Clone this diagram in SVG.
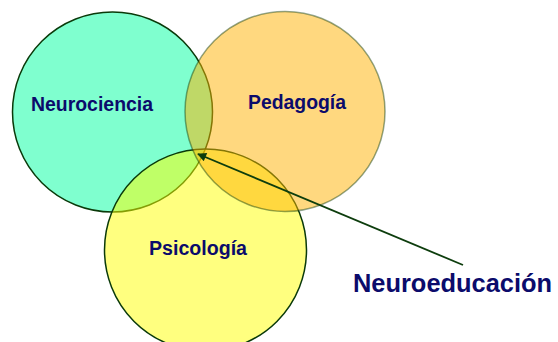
<svg xmlns="http://www.w3.org/2000/svg" width="558" height="342" viewBox="0 0 558 342">
  <defs>
    <style>
      .lbl { font-family: "Liberation Sans", Arial, sans-serif; font-weight: bold; fill: #0b0b6b; }
      .set { fill-opacity: 0.5; stroke-width: 1.5; }
      .conn { stroke: #0d3d0d; stroke-width: 1.8; fill: none; }
    </style>
    <marker id="arr" viewBox="0 0 10 10" refX="9" refY="5" markerWidth="6" markerHeight="5" orient="auto" markerUnits="strokeWidth">
      <path d="M0,0 L10,5 L0,10 z" fill="#0d3d0d"/>
    </marker>
  </defs>
  <rect width="558" height="342" fill="#ffffff"/>
  <g id="neurociencia">
    <circle class="set" cx="112.5" cy="112" r="100" fill="#00ffa0" stroke="#0a3a0a"/>
    <text class="lbl" x="31" y="111" font-size="20" textLength="122" lengthAdjust="spacingAndGlyphs">Neurociencia</text>
  </g>
  <g id="psicologia">
    <circle class="set" cx="205.5" cy="250" r="101" fill="#ffff00" stroke="#0a3a0a"/>
    <text class="lbl" x="149" y="255" font-size="20" textLength="98" lengthAdjust="spacingAndGlyphs">Psicología</text>
  </g>
  <g id="pedagogia">
    <circle class="set" cx="285" cy="111.5" r="100" fill="#ffb200" stroke="#0a3a0a" stroke-opacity="0.45"/>
    <text class="lbl" x="248" y="109" font-size="20" textLength="98" lengthAdjust="spacingAndGlyphs">Pedagogía</text>
  </g>
  <g id="connectors">
    <line class="conn" x1="463" y1="265" x2="198" y2="154" marker-end="url(#arr)"/>
  </g>
  <g id="neuroeducacion">
    <text class="lbl" x="353" y="292" font-size="25" textLength="199" lengthAdjust="spacingAndGlyphs">Neuroeducación</text>
  </g>
</svg>
